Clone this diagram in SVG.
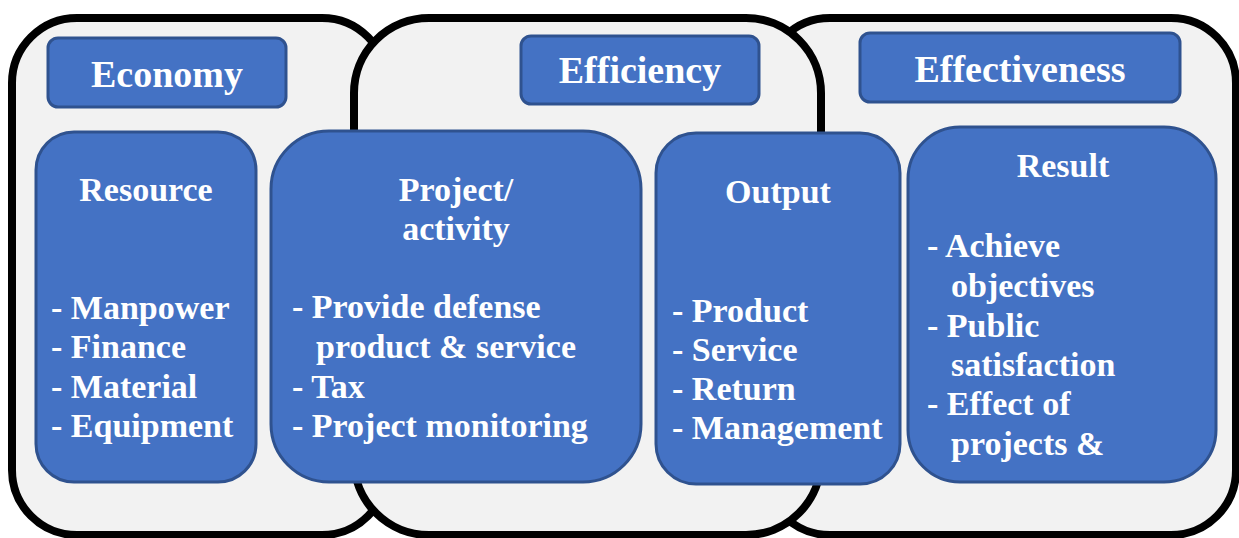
<svg xmlns="http://www.w3.org/2000/svg" width="1239" height="538" viewBox="0 0 1239 538">
  <style>
    .panel { fill: #f2f2f2; stroke: #000000; stroke-width: 8; }
    .box { fill: #4472c4; stroke: #2f528f; stroke-width: 3; }
    .title { font-family: "Liberation Serif", "Times New Roman", serif; font-weight: bold; font-size: 38px; fill: #ffffff; text-anchor: middle; }
    .head { font-family: "Liberation Serif", "Times New Roman", serif; font-weight: bold; font-size: 34px; fill: #ffffff; text-anchor: middle; }
    .item { font-family: "Liberation Serif", "Times New Roman", serif; font-weight: bold; font-size: 34px; fill: #ffffff; }
  </style>
  <rect width="1239" height="538" fill="#ffffff"/>

  <!-- large rounded panels: the middle one sits over its neighbours -->
  <g id="panel-economy">
    <rect class="panel" x="12" y="18" width="375" height="517" rx="65" ry="65"/>
  </g>
  <g id="panel-effectiveness">
    <rect class="panel" x="765" y="18" width="471" height="517" rx="65" ry="65"/>
  </g>
  <g id="panel-efficiency">
    <rect class="panel" x="354" y="18" width="467" height="517" rx="75" ry="75"/>
  </g>

  <!-- panel titles -->
  <g id="title-economy">
    <rect class="box" x="48" y="38" width="238" height="69" rx="10" ry="10"/>
    <text class="title" x="167" y="87">Economy</text>
  </g>
  <g id="title-efficiency">
    <rect class="box" x="521" y="36" width="238" height="68" rx="10" ry="10"/>
    <text class="title" x="640" y="83">Efficiency</text>
  </g>
  <g id="title-effectiveness">
    <rect class="box" x="860" y="33" width="320" height="69" rx="10" ry="10"/>
    <text class="title" x="1020" y="82">Effectiveness</text>
  </g>

  <!-- content boxes -->
  <g id="box-resource">
    <rect class="box" x="36" y="132" width="220" height="350" rx="38" ry="38"/>
    <text class="head" x="146" y="201">Resource</text>
    <text class="item" x="51" y="319">- Manpower</text>
    <text class="item" x="51" y="358">- Finance</text>
    <text class="item" x="51" y="398">- Material</text>
    <text class="item" x="51" y="437">- Equipment</text>
  </g>
  <g id="box-project">
    <rect class="box" x="271" y="131" width="370" height="351" rx="58" ry="58"/>
    <text class="head" x="456" y="201">Project/</text>
    <text class="head" x="456" y="240">activity</text>
    <text class="item" x="292" y="318">- Provide defense</text>
    <text class="item" x="316" y="358">product &amp; service</text>
    <text class="item" x="292" y="398">- Tax</text>
    <text class="item" x="292" y="437">- Project monitoring</text>
  </g>
  <g id="box-output">
    <rect class="box" x="656" y="133" width="244" height="351" rx="40" ry="40"/>
    <text class="head" x="778" y="203">Output</text>
    <text class="item" x="672" y="322">- Product</text>
    <text class="item" x="672" y="361">- Service</text>
    <text class="item" x="672" y="400">- Return</text>
    <text class="item" x="672" y="439">- Management</text>
  </g>
  <g id="box-result">
    <rect class="box" x="908" y="127" width="308" height="355" rx="52" ry="52"/>
    <text class="head" x="1063" y="177">Result</text>
    <text class="item" x="927" y="257">- Achieve</text>
    <text class="item" x="951" y="297">objectives</text>
    <text class="item" x="927" y="337">- Public</text>
    <text class="item" x="951" y="376">satisfaction</text>
    <text class="item" x="927" y="415">- Effect of</text>
    <text class="item" x="951" y="455">projects &amp;</text>
  </g>

  <g id="connectors"/>
</svg>
